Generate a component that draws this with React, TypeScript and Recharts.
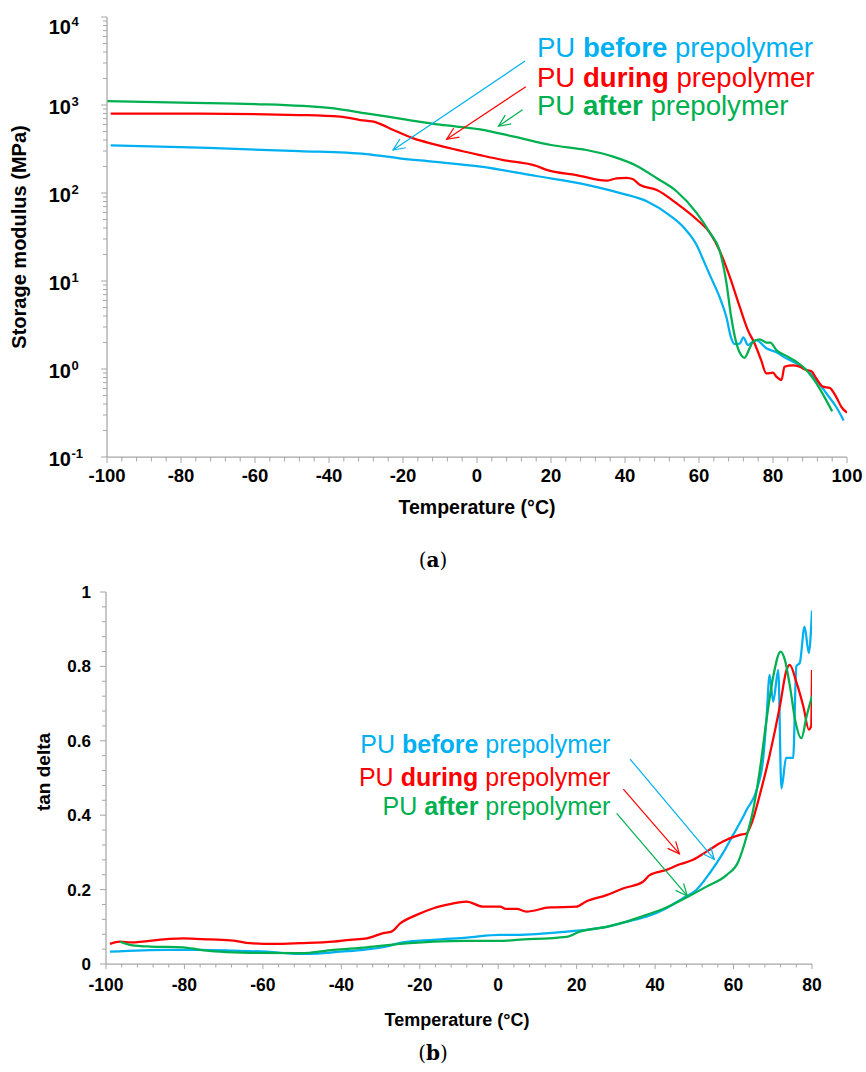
import React from 'react';
import { LineChart, Line, XAxis, YAxis, ReferenceLine, ReferenceDot } from 'recharts';

// ---------- colours ----------
const BLUE = '#00B0F0';
const RED = '#FF0000';
const GREEN = '#00B050';
const AXIS = '#A6A6A6';
const SANS = "'Liberation Sans', Arial, sans-serif";
const SERIF = "'DejaVu Serif', 'Liberation Serif', serif";

// ---------- (a) storage modulus, MPa ----------
const tempBeforeA = [-99, -75, -48, -30, -21, -12, 1, 16, 30, 39, 46, 52, 56, 59.5, 61, 63, 65.6, 67.4, 68.7, 69.6, 71, 72, 73.2, 74.6, 75.5, 78.2, 80.9, 83.6, 86.3, 89, 91.7, 94.4, 97.1, 99.1];
const modBeforeA = [348, 327, 300, 277, 248, 227, 199, 156, 123, 99, 80, 56, 40, 25, 18, 11.5, 6.5, 3.9, 2.24, 1.92, 1.94, 2.29, 1.87, 2.04, 2.13, 1.72, 1.55, 1.32, 1.16, 0.975, 0.75, 0.53, 0.37, 0.26];

const tempDuringA = [-99, -75, -48, -37, -31.6, -27.1, -22.6, -17.2, -11.8, -6.4, 0.8, 7.1, 16.1, 18.8, 26.9, 35, 37.7, 40.4, 42.2, 44.1, 48.6, 54, 59.4, 63, 65.6, 68.3, 71, 73.2, 75, 76.8, 78.2, 80, 80.9, 82.3, 83.1, 85.4, 87.2, 89, 90.4, 91.7, 93.5, 95.3, 97.1, 98.5, 100];
const modDuringA = [797, 797, 769, 736, 675, 631, 520, 417, 360, 316, 270, 237, 203, 183, 160, 138, 147, 149, 143, 123, 108, 76, 50, 35, 22, 11.2, 5.1, 2.77, 1.96, 1.26, 0.89, 0.91, 0.82, 0.75, 1.06, 1.1, 1.06, 0.975, 0.94, 0.78, 0.63, 0.61, 0.48, 0.37, 0.32];

const tempAfterA = [-100, -80, -60, -40, -30, -20, -10, 0.8, 10, 20, 29.6, 36.8, 43.2, 48.6, 54, 59.4, 63, 65.6, 67.3, 68.7, 70.1, 71.4, 72.3, 73.7, 74.6, 76.4, 78.2, 79.3, 80.9, 83.6, 86.3, 89, 91.7, 94.4, 96];
const modAfterA = [1110, 1061, 1026, 925, 805, 692, 597, 529, 437, 351, 308, 259, 203, 147, 104, 59, 35, 22, 10.2, 3.9, 1.97, 1.44, 1.34, 1.73, 2.04, 2.17, 2.0, 2.0, 1.64, 1.41, 1.21, 0.975, 0.69, 0.44, 0.33];

// ---------- (b) tan delta ----------
const tempBeforeB = [-99, -84.5, -76, -67.5, -59, -50.5, -46, -40.3, -34.4, -28.4, -25, -16.5, -8, 0.4, 4.7, 17.4, 27.6, 34.4, 37.8, 42.9, 47.1, 50.5, 53.9, 57.3, 59.9, 62, 63.3, 65.9, 67.6, 68.4, 69.2, 70.1, 71.4, 72.2, 73.4, 75.2, 76, 76.9, 78.1, 79.2, 80];
const tanBeforeB = [0.033, 0.038, 0.038, 0.036, 0.033, 0.027, 0.028, 0.033, 0.038, 0.047, 0.057, 0.065, 0.071, 0.078, 0.078, 0.087, 0.1, 0.118, 0.127, 0.15, 0.177, 0.199, 0.244, 0.298, 0.347, 0.387, 0.414, 0.468, 0.557, 0.66, 0.777, 0.705, 0.79, 0.472, 0.554, 0.554, 0.8, 0.81, 0.907, 0.836, 0.95];

const tempDuringB = [-99, -96.4, -93.6, -84.5, -80.3, -73.5, -67.5, -63.3, -57.3, -50.5, -42, -37.8, -33.5, -29.3, -27.2, -25, -20.8, -16.5, -12.3, -8.1, -3.8, 0.5, 1.9, 4.7, 7.2, 13.1, 19.9, 22.4, 27.6, 31.8, 36.9, 38.6, 42.9, 46.3, 49.7, 53.1, 57.3, 61.6, 63.3, 64.6, 66.8, 69.3, 71.8, 73.5, 74.3, 76.1, 77.8, 79.2, 79.8, 80];
const tanDuringB = [0.054, 0.06, 0.058, 0.067, 0.069, 0.066, 0.063, 0.056, 0.054, 0.056, 0.06, 0.065, 0.069, 0.083, 0.087, 0.109, 0.132, 0.15, 0.161, 0.168, 0.154, 0.154, 0.148, 0.148, 0.141, 0.152, 0.154, 0.168, 0.185, 0.203, 0.221, 0.239, 0.253, 0.268, 0.28, 0.302, 0.329, 0.347, 0.351, 0.378, 0.459, 0.566, 0.692, 0.79, 0.804, 0.755, 0.692, 0.63, 0.64, 0.79];

const tempAfterB = [-96.4, -93.6, -88.8, -80.3, -76, -70.9, -63.3, -50.5, -42, -33.5, -25, -16.5, -8, 0.4, 4.7, 17.4, 20.8, 27.6, 32.7, 37.8, 42.9, 48, 53.1, 58.2, 61.2, 63.3, 65, 66.7, 68.4, 70.1, 72, 73.1, 74.4, 75.7, 77.3, 78.6, 80];
const tanAfterB = [0.06, 0.051, 0.047, 0.045, 0.038, 0.033, 0.03, 0.029, 0.038, 0.045, 0.054, 0.06, 0.062, 0.062, 0.065, 0.073, 0.087, 0.1, 0.114, 0.132, 0.152, 0.179, 0.208, 0.239, 0.275, 0.342, 0.414, 0.521, 0.656, 0.772, 0.84, 0.817, 0.745, 0.656, 0.607, 0.665, 0.72];

// ---------- ticks ----------
const xTicksA = Array.from({ length: 51 }, (_, i) => -100 + i * 4);
const xTicksB = Array.from({ length: 46 }, (_, i) => -100 + i * 4);
const yTicksA = (() => {
  const out: number[] = [];
  for (let e = -1; e < 4; e++) for (let k = 1; k <= 9; k++) out.push(parseFloat((k * Math.pow(10, e)).toPrecision(6)));
  out.push(10000);
  return out;
})();
const yTicksB = Array.from({ length: 26 }, (_, i) => Math.round(i * 4) / 100);

// ---------- series labels ----------
const seriesWords = [
  { key: 'before', color: BLUE },
  { key: 'during', color: RED },
  { key: 'after', color: GREEN },
];

const zip = (t: number[], v: number[]) => t.map((x, i) => ({ t: x, v: v[i] }));

// ---------- annotation geometry (data coordinates) ----------
const arrowsA = [
  { from: [13.0, 3162], to: [-22.7, 308], color: BLUE },
  { from: [13.2, 1614], to: [-8.2, 408], color: RED },
  { from: [12.3, 885], to: [5.8, 573], color: GREEN },
];
const labelsA = [
  { t: 16.2, v: 3511 },
  { t: 16.2, v: 1603 },
  { t: 16.2, v: 769 },
];
const arrowsB = [
  { from: [33.6, 0.551], to: [55.1, 0.281], color: BLUE },
  { from: [31.9, 0.47], to: [46.2, 0.296], color: RED },
  { from: [30.2, 0.405], to: [48.2, 0.183], color: GREEN },
];
const labelsB = [
  { t: 28.6, v: 0.567 },
  { t: 28.6, v: 0.479 },
  { t: 28.6, v: 0.401 },
];

// ---------- shapes ----------
const arrowShape = (color: string) => (p: any) => {
  const { x1, y1, x2, y2 } = p;
  const ang = Math.atan2(y2 - y1, x2 - x1);
  const L = 13, a = 0.42;
  const hx1 = x2 - L * Math.cos(ang - a), hy1 = y2 - L * Math.sin(ang - a);
  const hx2 = x2 - L * Math.cos(ang + a), hy2 = y2 - L * Math.sin(ang + a);
  return (
    <g>
      <line x1={x1} y1={y1} x2={x2} y2={y2} stroke={color} strokeWidth={1.2} />
      <polyline points={`${hx1},${hy1} ${x2},${y2} ${hx2},${hy2}`} fill="none" stroke={color} strokeWidth={1.2} />
    </g>
  );
};

const labelShape = (word: string, color: string, size: number, anchor: 'start' | 'end') => (p: any) => (
  <text x={p.cx} y={p.cy} fill={color} fontFamily={SANS} fontSize={size} textAnchor={anchor}>
    <tspan>PU </tspan>
    <tspan fontWeight="bold">{word}</tspan>
    <tspan> prepolymer</tspan>
  </text>
);

const XTickA = (p: any) => {
  const { x, y, payload } = p;
  const v = payload.value;
  const major = Math.round(v) % 20 === 0;
  return (
    <g>
      <line x1={x} y1={y} x2={x} y2={y + (major ? 6 : 4.5)} stroke={AXIS} strokeWidth={1} />
      {major && (
        <text x={x} y={y + 25} textAnchor="middle" fontFamily={SANS} fontWeight="bold" fontSize={18.5} fill="#000">
          {v}
        </text>
      )}
    </g>
  );
};

const YTickA = (p: any) => {
  const { x, y, payload } = p;
  const v = payload.value;
  const lg = Math.log10(v);
  const e = Math.round(lg);
  const major = Math.abs(lg - e) < 1e-6;
  const base = y + (e === 4 ? 17 : 9);
  return (
    <g>
      <line x1={x - (major ? 6 : 4)} y1={y} x2={x} y2={y} stroke={AXIS} strokeWidth={1} />
      {major && (
        <g>
          <text x={x - 36} y={base} textAnchor="end" fontFamily={SANS} fontWeight="bold" fontSize={20} fill="#000">10</text>
          <text x={x - 35.5} y={base - 8} textAnchor="start" fontFamily={SANS} fontWeight="bold" fontSize={13} fill="#000">{e}</text>
        </g>
      )}
    </g>
  );
};

const XTickB = (p: any) => {
  const { x, y, payload } = p;
  const v = payload.value;
  const major = Math.round(v) % 20 === 0;
  return (
    <g>
      <line x1={x} y1={y} x2={x} y2={y + (major ? 5 : 3.5)} stroke={AXIS} strokeWidth={1} />
      {major && (
        <text x={x} y={y + 27} textAnchor="middle" fontFamily={SANS} fontWeight="bold" fontSize={17.5} fill="#000">
          {v}
        </text>
      )}
    </g>
  );
};

const YTickB = (p: any) => {
  const { x, y, payload } = p;
  const v = payload.value;
  const major = Math.round(v * 100) % 20 === 0;
  return (
    <g>
      <line x1={x - (major ? 6 : 4)} y1={y} x2={x} y2={y} stroke={AXIS} strokeWidth={1} />
      {major && (
        <text x={x - 15} y={y + 6} textAnchor="end" fontFamily={SANS} fontWeight="bold" fontSize={17} fill="#000">
          {v}
        </text>
      )}
    </g>
  );
};

const dataA = [zip(tempBeforeA, modBeforeA), zip(tempDuringA, modDuringA), zip(tempAfterA, modAfterA)];
const dataB = [zip(tempBeforeB, tanBeforeB), zip(tempDuringB, tanDuringB), zip(tempAfterB, tanAfterB)];

export default function App() {
  return (
    <div style={{ position: 'absolute', left: 0, top: 0, width: 866, height: 1072, background: '#fff' }}>
      <div style={{ position: 'absolute', left: 0, top: 0 }}>
        <LineChart width={866} height={520} margin={{ top: 17, right: 19, left: 0, bottom: 0 }}>
          <XAxis
            dataKey="t" type="number" domain={[-100, 100]} ticks={xTicksA} interval={0}
            allowDataOverflow height={63} tickLine={false} tickSize={0} tickMargin={0}
            axisLine={{ stroke: AXIS, strokeWidth: 1.25 }} tick={(p: any) => <XTickA {...p} />}
          />
          <YAxis
            type="number" scale="log" domain={[0.1, 10000]} ticks={yTicksA} interval={0}
            allowDataOverflow width={107} tickLine={false} tickSize={0} tickMargin={0}
            axisLine={{ stroke: AXIS, strokeWidth: 1.25 }} tick={(p: any) => <YTickA {...p} />}
          />
          {dataA.map((d, i) => (
            <Line key={i} data={d} dataKey="v" type="monotone" stroke={seriesWords[i].color} strokeWidth={2.25}
              dot={false} activeDot={false} isAnimationActive={false} />
          ))}
          {arrowsA.map((a, i) => (
            <ReferenceLine key={'a' + i} segment={[{ x: a.from[0], y: a.from[1] }, { x: a.to[0], y: a.to[1] }]}
              ifOverflow="visible" shape={arrowShape(a.color)} />
          ))}
          {labelsA.map((l, i) => (
            <ReferenceDot key={'l' + i} x={l.t} y={l.v} r={0} ifOverflow="visible"
              shape={labelShape(seriesWords[i].key, seriesWords[i].color, 27.6, 'start')} />
          ))}
        </LineChart>
      </div>

      <div style={{ position: 'absolute', left: 0, top: 560 }}>
        <LineChart width={866} height={470} margin={{ top: 32, right: 54, left: 0, bottom: 0 }}>
          <XAxis
            dataKey="t" type="number" domain={[-100, 80]} ticks={xTicksB} interval={0}
            allowDataOverflow height={66} tickLine={false} tickSize={0} tickMargin={0}
            axisLine={{ stroke: AXIS, strokeWidth: 1.25 }} tick={(p: any) => <XTickB {...p} />}
          />
          <YAxis
            type="number" domain={[0, 1]} ticks={yTicksB} interval={0}
            allowDataOverflow width={106} tickLine={false} tickSize={0} tickMargin={0}
            axisLine={{ stroke: AXIS, strokeWidth: 1.25 }} tick={(p: any) => <YTickB {...p} />}
          />
          {dataB.map((d, i) => (
            <Line key={i} data={d} dataKey="v" type="monotone" stroke={seriesWords[i].color} strokeWidth={2.25}
              dot={false} activeDot={false} isAnimationActive={false} />
          ))}
          {arrowsB.map((a, i) => (
            <ReferenceLine key={'a' + i} segment={[{ x: a.from[0], y: a.from[1] }, { x: a.to[0], y: a.to[1] }]}
              ifOverflow="visible" shape={arrowShape(a.color)} />
          ))}
          {labelsB.map((l, i) => (
            <ReferenceDot key={'l' + i} x={l.t} y={l.v} r={0} ifOverflow="visible"
              shape={labelShape(seriesWords[i].key, seriesWords[i].color, 25, 'end')} />
          ))}
        </LineChart>
      </div>

      <svg width={866} height={1072} style={{ position: 'absolute', left: 0, top: 0, pointerEvents: 'none' }}>
        <text transform="translate(26,237) rotate(-90)" textAnchor="middle" fontFamily={SANS} fontWeight="bold" fontSize={20} fill="#000">
          Storage modulus (MPa)
        </text>
        <text x={477} y={514} textAnchor="middle" fontFamily={SANS} fontWeight="bold" fontSize={19.5} fill="#000">
          Temperature (°C)
        </text>
        <text x={433} y={567} textAnchor="middle" fontFamily={SERIF} fontSize={20} fill="#000">
          (<tspan fontWeight="bold">a</tspan>)
        </text>
        <text transform="translate(49.5,772) rotate(-90)" textAnchor="middle" fontFamily={SANS} fontWeight="bold" fontSize={19} fill="#000">
          tan delta
        </text>
        <text x={457} y={1026} textAnchor="middle" fontFamily={SANS} fontWeight="bold" fontSize={18} fill="#000">
          Temperature (°C)
        </text>
        <text x={433} y={1060} textAnchor="middle" fontFamily={SERIF} fontSize={20} fill="#000">
          (<tspan fontWeight="bold">b</tspan>)
        </text>
      </svg>
    </div>
  );
}
